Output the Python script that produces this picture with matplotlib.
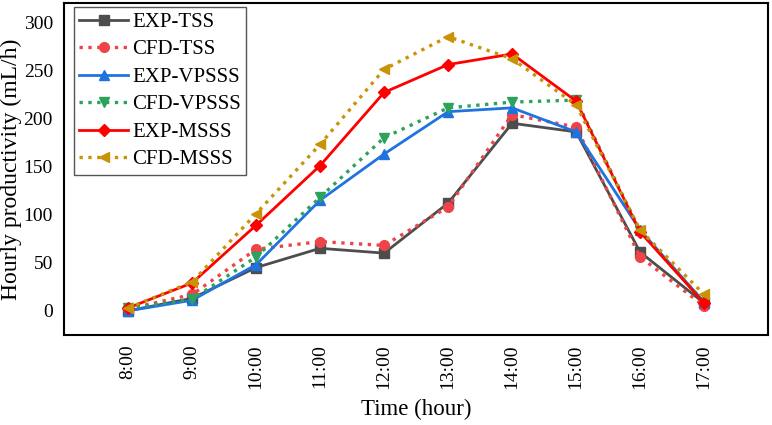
import matplotlib
matplotlib.use("Agg")
import matplotlib.pyplot as plt

plt.rcParams['font.family'] = ['Liberation Serif', 'DejaVu Serif']

hours = ["8:00", "9:00", "10:00", "11:00", "12:00", "13:00", "14:00", "15:00", "16:00", "17:00"]

exp_tss = [0, 13, 45, 65, 60, 112, 195, 186, 61, 8]
cfd_tss = [2, 17, 64, 72, 68, 108, 204, 191, 56, 5]
exp_vpsss = [0, 11, 48, 115, 163, 207, 211, 186, 84, 9]
cfd_vpsss = [3, 12, 56, 118, 180, 211, 217, 219, 83, 9]
exp_msss = [3, 29, 89, 151, 227, 256, 267, 218, 82, 8]
cfd_msss = [3, 30, 101, 173, 251, 285, 262, 214, 84, 17]

series = [
    ("EXP-TSS", exp_tss, "#4d4d4d", "-", "s"),
    ("CFD-TSS", cfd_tss, "#ee4449", ":", "o"),
    ("EXP-VPSSS", exp_vpsss, "#1f73e0", "-", "^"),
    ("CFD-VPSSS", cfd_vpsss, "#2ca25c", ":", "v"),
    ("EXP-MSSS", exp_msss, "#ff0000", "-", "D"),
    ("CFD-MSSS", cfd_msss, "#c99307", ":", "<"),
]

fig, ax = plt.subplots(figsize=(7.72, 4.25), dpi=100)
fig.subplots_adjust(left=0.083, right=0.995, top=0.993, bottom=0.212)

x = list(range(len(hours)))
for name, vals, col, ls, mk in series:
    lw = 2.0 if ls == "-" else 2.4
    ms = 7 if mk != "D" else 6.5
    ax.plot(x, vals, linestyle=ls, color=col, marker=mk, markersize=ms, lw=lw, label=name)

ax.set_xlim(-1, 10)
ax.set_ylim(-25, 320)
ax.set_xticks(x)
ax.set_xticklabels(hours, rotation=90, fontsize=14)
ax.set_yticks([0, 50, 100, 150, 200, 250, 300])
ax.tick_params(axis='y', labelsize=14, length=0, pad=8)
ax.tick_params(axis='x', length=0, pad=7)
for s in ax.spines.values():
    s.set_linewidth(1.5)
ax.set_xlabel("Time (hour)", fontsize=16.5, labelpad=7)
ax.set_ylabel("Hourly productivity (mL/h)", fontsize=17, labelpad=1)

leg = ax.legend(loc="upper left", fontsize=15, handlelength=2.35,
                bbox_to_anchor=(74 / 772, 1 - 7 / 425), bbox_transform=fig.transFigure,
                borderaxespad=0, labelspacing=0.38, fancybox=False,
                edgecolor="#555555", framealpha=1, handletextpad=0.2, borderpad=0.25)

fig.savefig("out.png", dpi=100)
